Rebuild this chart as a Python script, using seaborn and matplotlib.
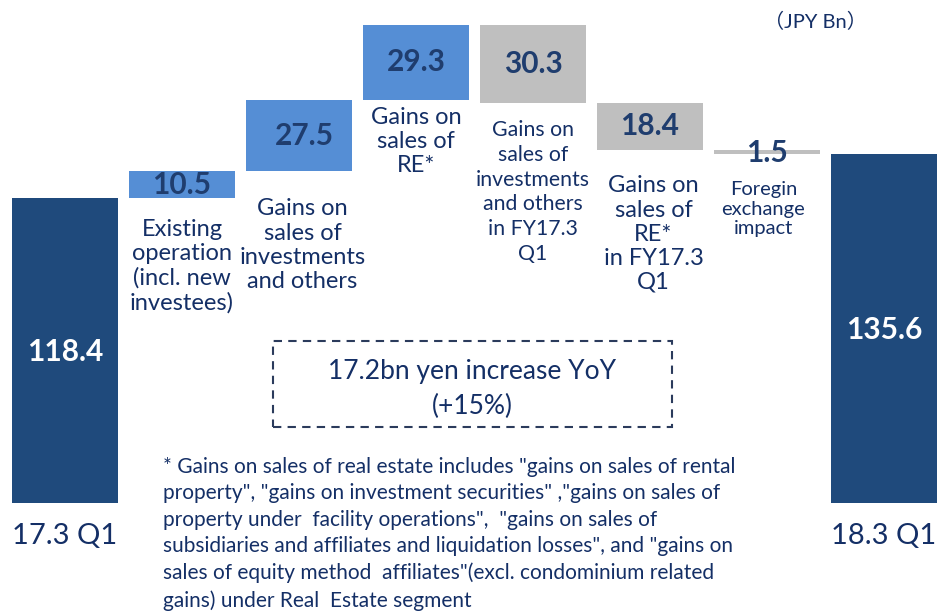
import numpy as np
import pandas as pd
import matplotlib
matplotlib.use("Agg")
import matplotlib.pyplot as plt
import seaborn as sns
from matplotlib.patches import Rectangle

# ------------------ DATA ------------------
steps = ["17.3 Q1", "Existing", "Inv gains", "RE gains", "Inv FY17", "RE FY17", "FX", "18.3 Q1"]
values = [118.4, 10.5, 27.5, 29.3, -30.3, -18.4, -1.5, 135.6]
kinds = ["total", "up", "up", "up", "down", "down", "down", "total"]
value_text = ["118.4", "10.5", "27.5", "29.3", "30.3", "18.4", "1.5", "135.6"]
step_labels = [
    "",
    "Existing\noperation\n(incl. new\ninvestees)",
    "Gains on\nsales of\ninvestments\nand others",
    "Gains on\nsales of\nRE*",
    "Gains on\nsales of\ninvestments\nand others\nin FY17.3\nQ1",
    "Gains on\nsales of\nRE*\nin FY17.3\nQ1",
    "Foregin\nexchange\nimpact",
    "",
]
period_labels = {0: "17.3 Q1", 7: "18.3 Q1"}
unit_text = "（JPY Bn）"
box_lines = "17.2bn yen increase YoY\n(+15%)"
footnote = (
    '* Gains on sales of real estate includes "gains on sales of rental\n'
    'property", "gains on investment securities" ,"gains on sales of\n'
    'property under  facility operations",  "gains on sales of\n'
    'subsidiaries and affiliates and liquidation losses", and "gains on\n'
    'sales of equity method  affiliates"(excl. condominium related\n'
    'gains) under Real  Estate segment'
)

# ------------------ STYLE ------------------
NAVY = "#1f4a7c"
BLUE = "#558ed5"
GRAY = "#bfbfbf"
TEXT = "#142f66"
NUM = "#1f3d6e"
kind_colors = {"total": NAVY, "up": BLUE, "down": GRAY}

sns.set_theme(style="white")
plt.rcParams["font.family"] = ["Lato", "Noto Sans CJK JP", "DejaVu Sans"]

# waterfall bottoms / heights
bottoms, heights = [], []
running = 0.0
for v, k in zip(values, kinds):
    if k == "total":
        bottoms.append(0.0)
        heights.append(v)
        running = v
    else:
        start = running
        running = running + v
        bottoms.append(min(start, running))
        heights.append(abs(v))

df = pd.DataFrame({"step": steps, "height": heights, "bottom": bottoms, "kind": kinds})
palette = {s: kind_colors[k] for s, k in zip(steps, kinds)}

# ------------------ PLOT ------------------
fig = plt.figure(figsize=(9.38, 6.11), dpi=100)
ax = fig.add_axes([0, 0, 1, 1])
sns.barplot(data=df, x="step", y="height", hue="step", palette=palette, legend=False,
            width=0.905, saturation=1, order=steps, hue_order=steps, ax=ax)

for patch in ax.patches:
    idx = int(round(patch.get_x() + patch.get_width() / 2))
    patch.set_y(bottoms[idx])
    patch.set_linewidth(0)

ax.set_xlim(-0.556, 7.462)
ax.set_ylim(-41.9, 195.3)
ax.axis("off")

# value labels
num_y = [58.6, None, None, None, None, None, 135.9, 67.2]
num_dx = [0, 0, 0.05, 0, 0, 0, 0, 0]
for i, txt in enumerate(value_text):
    y = num_y[i] if num_y[i] is not None else bottoms[i] + heights[i] / 2
    col = "white" if kinds[i] == "total" else NUM
    ax.text(i + num_dx[i], y, txt, ha="center", va="center", fontsize=21.5,
            fontweight="bold", color=col)

# step labels (centre y in pixel rows of the original layout)
label_px = [None, 266, 245, 141, 192, 234, 209, None]
label_size = [0, 17, 17, 17, 15.3, 17, 14.5, 0]
label_ls = [1, 1.18, 1.18, 1.18, 1.3, 1.18, 1.15, 1]
label_dx = [0, 0, 0.03, 0, 0, 0.03, -0.03, 0]
for i, txt in enumerate(step_labels):
    if not txt:
        continue
    y = (503 - label_px[i]) / 2.576
    ax.text(i + label_dx[i], y, txt, ha="center", va="center", fontsize=label_size[i],
            color=TEXT, linespacing=label_ls[i])

for i, txt in period_labels.items():
    ax.text(i, (503 - 536) / 2.576, txt, ha="center", va="center", fontsize=21, color=TEXT)

fig.text(815 / 938, 1 - 21 / 611, unit_text, ha="center", va="center", fontsize=14.5, color=TEXT)

# dashed summary box
bx0, bx1, by0, by1 = 273 / 938, 672 / 938, 1 - 427 / 611, 1 - 341 / 611
fig.patches.append(Rectangle((bx0, by0), bx1 - bx0, by1 - by0, transform=fig.transFigure,
                             fill=False, edgecolor="#2b3b5c", linewidth=1.5,
                             linestyle=(0, (4, 3))))
fig.text((bx0 + bx1) / 2, 1 - 389 / 611, box_lines, ha="center", va="center",
         fontsize=19, color=TEXT, linespacing=1.45)

fig.text(163 / 938, 1 - 457 / 611, footnote, ha="left", va="top", fontsize=15,
         color=TEXT, linespacing=1.4)

fig.savefig("out.png", dpi=100)
